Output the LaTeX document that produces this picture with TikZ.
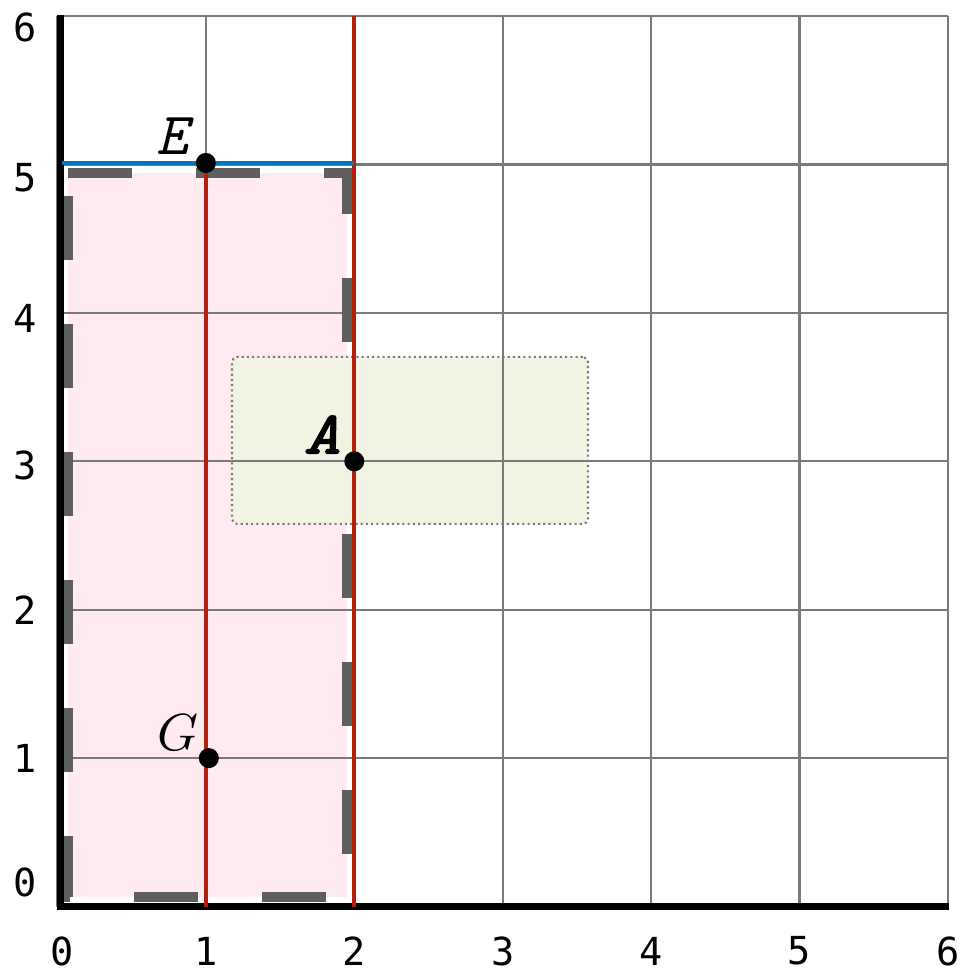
\documentclass[tikz,border=0pt]{standalone}
\usepackage{fontspec}
\newfontfamily\tickfont{DejaVu Sans Mono}
\newfontfamily\heavymono[FakeBold=2.5,FakeStretch=1.15]{lmmono10-italic.otf}
\definecolor{gridgray}{HTML}{7A7A7A}
\definecolor{boundgray}{HTML}{5F5F5F}
\definecolor{linered}{HTML}{B21F0D}
\definecolor{lineblue}{HTML}{0077BB}
\definecolor{regionpink}{HTML}{FFEAF0}
\definecolor{areagreen}{HTML}{F3F3E4}

\begin{document}
\begin{tikzpicture}[
  x=1cm,y=1cm,
  gridline/.style={draw=gridgray,line width=0.4pt},
  axisline/.style={draw=black,line width=1.2pt,line join=miter},
  region/.style={fill=regionpink},
  bound/.style={draw=boundgray,line width=1.9pt,dash pattern=on 0.431cm off 0.431cm,line join=miter},
  areabox/.style={draw=gridgray,fill=areagreen,line width=0.4pt,dash pattern=on 0.4pt off 0.6pt,
    rounded corners=1pt,minimum width=2.399cm,minimum height=1.125cm,inner sep=0pt,outer sep=0pt},
  redline/.style={draw=linered,line width=0.85pt},
  blueline/.style={draw=lineblue,line width=0.9pt},
  dot/.style={circle,fill=black,inner sep=0pt,minimum size=0.135cm},
  tick/.style={font=\fontsize{7.4}{8}\tickfont,inner sep=0pt},
  ptlabel/.style={font=\fontsize{11.5}{14}\ttfamily,inner sep=0pt}
]
\useasboundingbox (-0.387,-0.414) rectangle (6.082,6.108);

\coordinate (O) at (0,0);
\coordinate (top) at (6,6);

\fill[region] (0.071,4.943) rectangle (1.95,0.064);
\draw[gridline] (O) grid (top);
\draw[bound] (0.071,4.943) -- (1.95,4.943) -- (1.95,0.064) -- (0.071,0.064) -- cycle;
\draw[axisline] (0.02,6.01) -- (0.02,0) -- (6.01,0);

\node[areabox] (area) at (2.3755,3.1405) {};
\begin{scope}
  \clip (area.south west) rectangle (area.north east);
  \draw[gridline] (O) grid (top);
\end{scope}

\foreach \i in {1,...,6}
  \node[tick] (xt\i) at (\i,-0.3) {\i};
\node[tick] (xt0) at (0.03,-0.3) {0};
\foreach \i/\y in {0/0.16,1/1,2/2,3/2.975,4/3.96,5/4.91,6/5.92}
  \node[tick] (yt\i) at (-0.22,\y) {\i};

\coordinate (E) at (1,5.01);
\coordinate (A) at (2,3);
\coordinate (G) at (1.02,1);
\coordinate (bl) at (0.03,5.01);
\coordinate (br) at (2,5.01);

\draw[redline] (2,0) -- (2,6);
\draw[redline] (E) -- (E |- O);
\draw[blueline] (bl) -- (br);

\node[dot] (Edot) at (E) {};
\node[dot] (Adot) at (A) {};
\node[dot] (Gdot) at (G) {};

\node[ptlabel] (Elbl) at (0.772,5.19) {\itshape E};
\node[ptlabel,font=\fontsize{11.5}{14}\heavymono] (Albl) at (1.782,3.18) {A};
\node[ptlabel,font=\fontsize{10.4}{12}\selectfont] (Glbl) at (0.812,1.17) {$G$};
\end{tikzpicture}
\end{document}
